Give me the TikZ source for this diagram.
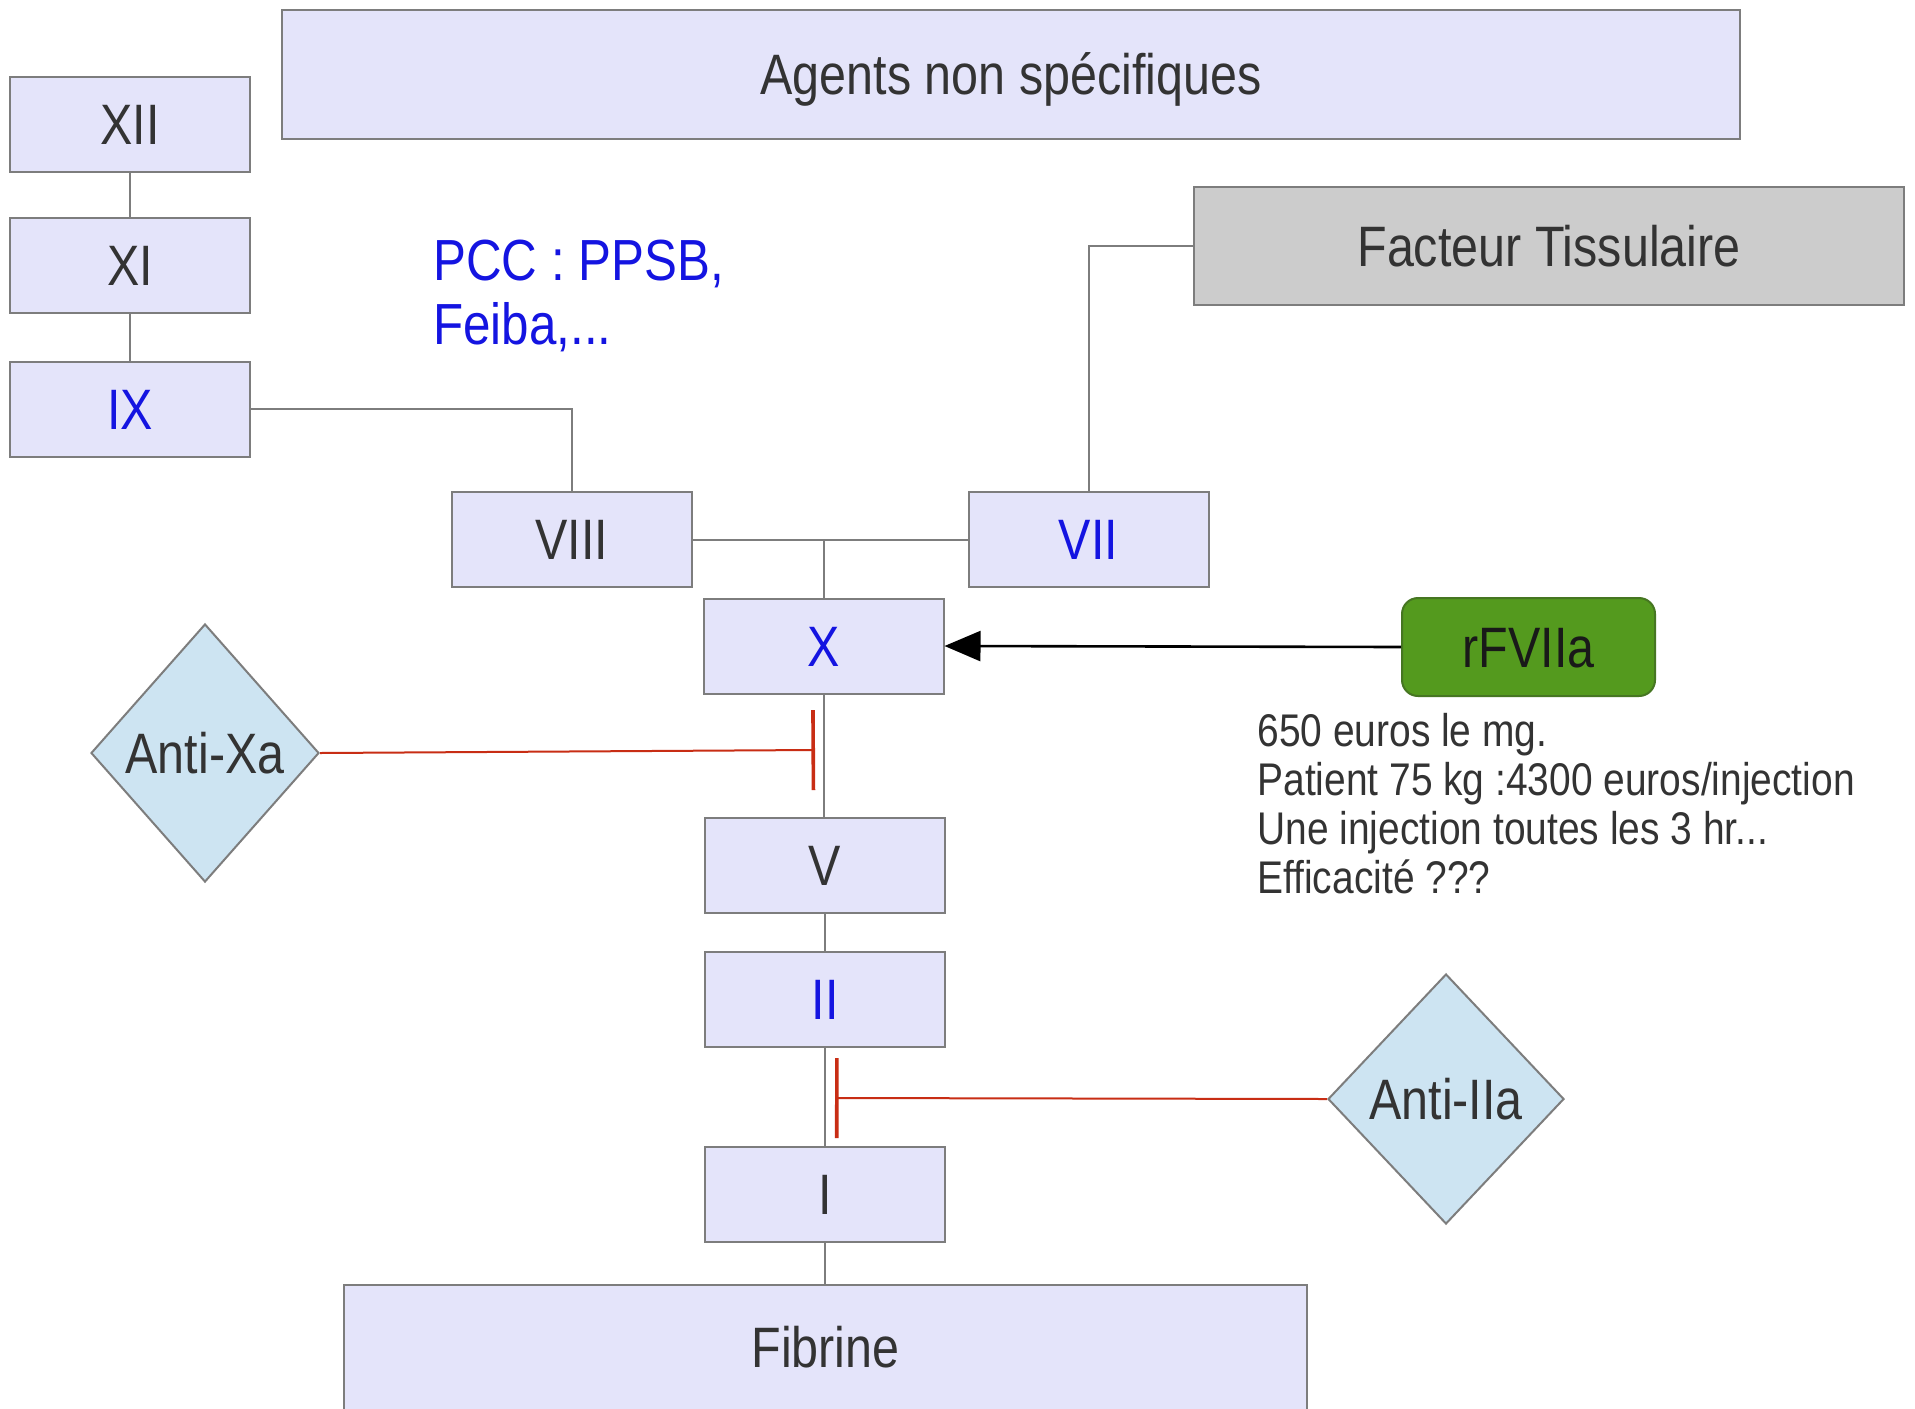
\documentclass[tikz,border=0pt]{standalone}
\usepackage{fontspec}
\setmainfont[FakeStretch=0.85]{Liberation Sans}
\usetikzlibrary{shapes.geometric,arrows.meta}

\definecolor{boxfill}{RGB}{228,228,250}
\definecolor{edgegray}{RGB}{125,125,125}
\definecolor{ink}{RGB}{51,51,51}
\definecolor{factblue}{RGB}{20,20,225}
\definecolor{tfgray}{RGB}{204,204,204}
\definecolor{rfgreen}{RGB}{84,154,30}
\definecolor{rfedge}{RGB}{70,118,34}
\definecolor{drugfill}{RGB}{205,228,242}
\definecolor{inhibred}{RGB}{200,45,20}

\begin{document}
\begin{tikzpicture}[x=0.5pt,y=-0.5pt,
  bigfont/.style={font=\fontsize{28.5}{34}\selectfont,
    text height=20.4pt, text depth=0pt},
  factor/.style={draw=edgegray, line width=1pt, fill=boxfill,
    minimum width=120pt, minimum height=47.5pt, inner sep=0pt,
    text=ink, bigfont},
  active/.style={text=factblue},
  link/.style={draw=edgegray, line width=1pt},
  drug/.style={diamond, draw=edgegray, line width=1pt, fill=drugfill,
    inner sep=0pt, text=ink, bigfont},
  inhibit/.style={draw=inhibred, line width=1pt,
    -{Bar[width=40pt,line width=1.8pt]}},
  activate/.style={draw=black, line width=1.3pt,
    -{Triangle[length=18pt,width=15pt]}}
]
\clip (0,0) rectangle (1915,1408);
\fill[white] (0,0) rectangle (1915,1408);

% Intrinsic pathway
\node[factor] (f12) at (130,124.5) {XII};
\node[factor] (f11) at (130,265) {XI};
\node[factor, active] (f9) at (130,409) {IX};

% General agents and tissue factor
\node[factor, minimum width=729pt, minimum height=64.5pt] (agents) at (1011,74.5) {Agents non spécifiques};
\node[factor, fill=tfgray, minimum width=355pt, minimum height=59pt] (tf) at (1549,246) {Facteur Tissulaire};

% Tenase level
\node[factor] (f8) at (572,539.5) {VIII};
\node[factor, active] (f7) at (1088.5,539.5) {VII};
\node[factor, active] (f10) at (823.5,646) {X};

% Common pathway
\node[factor] (f5) at (825,865) {V};
\node[factor, active] (f2) at (825,999) {II};
\node[factor] (f1) at (825,1194) {I};
\node[factor, minimum width=481.5pt, minimum height=62.5pt] (fib) at (825.5,1347.5) {Fibrine};

% Recombinant factor VIIa
\node[draw=rfedge, line width=1pt, fill=rfgreen, rounded corners=8pt,
  minimum width=126.5pt, minimum height=49pt, inner sep=0pt,
  text=black!90, bigfont] (rf) at (1528.5,647) {rFVIIa};

% Anticoagulant drugs
\node[drug, minimum width=114pt, minimum height=129pt] (axa) at (205,753) {Anti-Xa};
\node[drug, minimum width=118pt, minimum height=125pt] (a2a) at (1446,1099) {Anti-IIa};

% Annotations
\node[anchor=west, align=left, inner sep=0pt, text=factblue,
  font=\fontsize{29}{32}\selectfont] (pcc) at (433,296) {PCC : PPSB,\\Feiba,...};
\node[anchor=north west, align=left, inner sep=0pt, text=ink,
  font=\fontsize{22.9}{24.4}\selectfont] (cost) at (1257,713)
  {650 euros le mg.\\Patient 75 kg :4300 euros/injection\\Une injection toutes les 3 hr...\\Efficacité ???};

% Cascade connectors
\draw[link] (f12) -- (f11);
\draw[link] (f11) -- (f9);
\draw[link] (f9.east) -| (f8.north);
\draw[link] (tf.west) -| (f7.north);
\draw[link] (f8.east) -- (f7.west);
\coordinate (tenase) at (f10.north |- f8.east);
\draw[link] (tenase) -- (f10.north);
\draw[link] (f10.south) -- (f10.south |- f5.north);
\draw[link] (f5) -- (f2);
\draw[link] (f2) -- (f1);
\draw[link] (f1.south) -- (f1.south |- fib.north);

% Drug actions
\coordinate (xastop) at (815,750);
\coordinate (iiastop) at (835,1098);
\draw[inhibit] (axa.east) -- (xastop);
\draw[inhibit] (a2a.west) -- (iiastop);
\draw[activate] (rf.west) -- (f10.east);
\end{tikzpicture}
\end{document}
